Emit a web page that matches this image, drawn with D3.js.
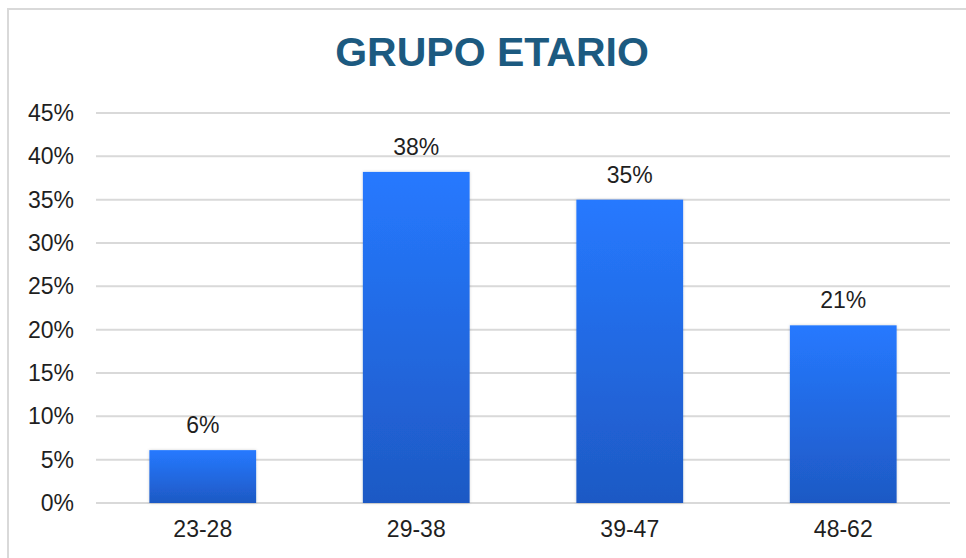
<!DOCTYPE html>
<html>
<head>
<meta charset="utf-8">
<script src="https://cdn.jsdelivr.net/npm/d3@7"></script>
<style>
  html, body { margin: 0; padding: 0; background: #fff; }
  text { font-family: "Liberation Sans", Arial, sans-serif; }
</style>
</head>
<body>
<svg id="chart"></svg>
<script>
// data
const categories = ["23-28", "29-38", "39-47", "48-62"];
const values = [0.061, 0.382, 0.350, 0.205];
const valueLabels = ["6%", "38%", "35%", "21%"];
const yTicks = [0, 0.05, 0.10, 0.15, 0.20, 0.25, 0.30, 0.35, 0.40, 0.45];

var width = 966;
var height = 558;
var margin = {top: 113, right: 16, bottom: 55, left: 96};

var svg = d3.select("#chart")
	.attr("width", width)
	.attr("height", height);

// outer frame (only top and left visible in the picture)
svg.append("rect")
	.attr("x", 8).attr("y", 9)
	.attr("width", width + 20).attr("height", height + 20)
	.attr("fill", "none")
	.attr("stroke", "#d9d9d9")
	.attr("stroke-width", 2);

var defs = svg.append("defs");
var grad = defs.append("linearGradient")
	.attr("id", "barGrad")
	.attr("x1", 0).attr("y1", 0).attr("x2", 0).attr("y2", 1);
grad.append("stop").attr("offset", "0%").attr("stop-color", "#2679ff");
grad.append("stop").attr("offset", "100%").attr("stop-color", "#1e59c4");

var shadow = defs.append("filter").attr("id", "shadow")
	.attr("x", "-10%").attr("y", "-10%").attr("width", "120%").attr("height", "120%");
shadow.append("feDropShadow")
	.attr("dx", 0).attr("dy", 0)
	.attr("stdDeviation", 1.5)
	.attr("flood-color", "#000")
	.attr("flood-opacity", 0.18);

var x = d3.scaleBand()
	.domain(categories)
	.range([margin.left, width - margin.right])
	.paddingInner(0.5)
	.paddingOuter(0.25);

var y = d3.scaleLinear()
	.domain([0, 0.45])
	.range([height - margin.bottom, margin.top]);

// title
svg.append("text")
	.attr("x", 492)
	.attr("y", 66)
	.attr("text-anchor", "middle")
	.attr("fill", "#1c5a80")
	.style("font-size", "41px")
	.style("font-weight", "bold")
	.text("GRUPO ETARIO");

// gridlines
svg.append("g")
	.selectAll("line")
	.data(yTicks)
	.enter()
	.append("line")
	.attr("x1", margin.left)
	.attr("x2", width - margin.right)
	.attr("y1", d => y(d))
	.attr("y2", d => y(d))
	.attr("stroke", "#d9d9d9")
	.attr("stroke-width", 2);

// y axis labels
var yAxis = d3.axisLeft(y)
	.tickValues(yTicks)
	.tickFormat(d3.format(".0%"))
	.tickSize(0)
	.tickPadding(22);

svg.append("g")
	.attr("transform", "translate(" + margin.left + ",0)")
	.call(yAxis)
	.call(g => g.select(".domain").remove())
	.selectAll("text")
	.attr("fill", "#1f1f1f")
	.style("font-size", "23px")
	.style("font-family", "'Liberation Sans', Arial, sans-serif");

// x axis labels
var xAxis = d3.axisBottom(x)
	.tickSize(0)
	.tickPadding(18);

svg.append("g")
	.attr("transform", "translate(0," + (height - margin.bottom) + ")")
	.call(xAxis)
	.call(g => g.select(".domain").remove())
	.selectAll("text")
	.attr("fill", "#1f1f1f")
	.style("font-size", "23px")
	.style("font-family", "'Liberation Sans', Arial, sans-serif");

// bars
svg.append("g")
	.selectAll("rect")
	.data(values)
	.enter()
	.append("rect")
	.attr("x", (d, i) => x(categories[i]))
	.attr("y", d => y(d))
	.attr("width", x.bandwidth())
	.attr("height", d => y(0) - y(d))
	.attr("fill", "url(#barGrad)")
	.attr("filter", "url(#shadow)");

// value labels
svg.append("g")
	.selectAll("text")
	.data(values)
	.enter()
	.append("text")
	.attr("x", (d, i) => x(categories[i]) + x.bandwidth() / 2)
	.attr("y", d => y(d) - 17)
	.attr("text-anchor", "middle")
	.attr("fill", "#1f1f1f")
	.style("font-size", "23px")
	.text((d, i) => valueLabels[i]);
</script>
</body>
</html>
